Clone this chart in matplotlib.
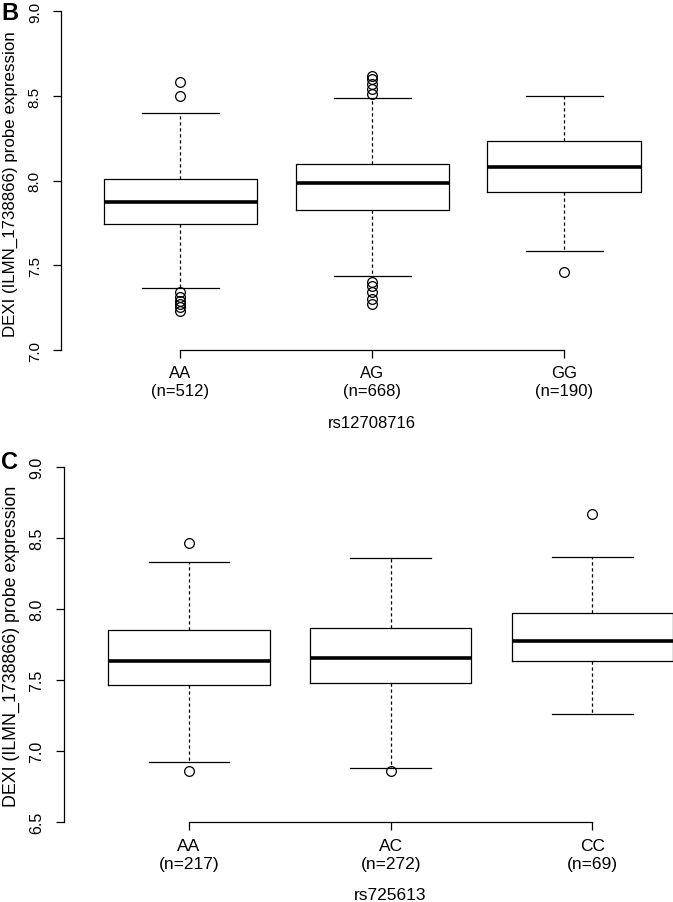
import matplotlib
matplotlib.use("Agg")
import matplotlib.pyplot as plt

plt.rcParams['font.family'] = ['Liberation Sans', 'DejaVu Sans']

# ---------------- data (panel B) ----------------
b_genotypes = ["AA", "AG", "GG"]
b_counts = [512, 668, 190]
b_q1 = [7.744, 7.826, 7.934]
b_med = [7.872, 7.984, 8.079]
b_q3 = [8.008, 8.096, 8.232]
b_whislo = [7.364, 7.438, 7.582]
b_whishi = [8.398, 8.488, 8.500]
b_fliers = [
    [8.584, 8.502, 7.340, 7.311, 7.291, 7.271, 7.252, 7.228],
    [8.620, 8.600, 8.570, 8.541, 8.511, 7.399, 7.376, 7.340, 7.301, 7.271],
    [7.458],
]
b_snp = "rs12708716"
b_yticks = [7.0, 7.5, 8.0, 8.5, 9.0]

# ---------------- data (panel C) ----------------
c_genotypes = ["AA", "AC", "CC"]
c_counts = [217, 272, 69]
c_q1 = [7.464, 7.478, 7.635]
c_med = [7.637, 7.656, 7.778]
c_q3 = [7.851, 7.867, 7.975]
c_whislo = [6.924, 6.884, 7.260]
c_whishi = [8.334, 8.357, 8.369]
c_fliers = [
    [8.463, 6.858],
    [6.858],
    [8.671],
]
c_snp = "rs725613"
c_yticks = [6.5, 7.0, 7.5, 8.0, 8.5, 9.0]

ylabel_text = "DEXI (ILMN_1738866) probe expression"

W, H = 673, 903
fig = plt.figure(figsize=(W / 100, H / 100), dpi=100)
fig.patch.set_facecolor("white")


def fx(x):
    return x / W


def fy(y):
    return 1 - y / H


def panel(rect, genotypes, counts, q1, med, q3, wlo, whi, fliers, yticks,
          xt_size, yt_size):
    left, top, width, height = rect
    ax = fig.add_axes([fx(left), fy(top + height), width / W, height / H])
    stats = []
    for i in range(len(genotypes)):
        stats.append(dict(med=med[i], q1=q1[i], q3=q3[i],
                          whislo=wlo[i], whishi=whi[i], fliers=fliers[i]))
    ax.bxp(stats, positions=[1, 2, 3], widths=0.8, capwidths=0.4,
           boxprops=dict(color="black", linewidth=0.9),
           medianprops=dict(color="black", linewidth=2.6, solid_capstyle="butt"),
           whiskerprops=dict(color="black", linewidth=0.9, linestyle=(0, (2.6, 2.2))),
           capprops=dict(color="black", linewidth=0.9),
           flierprops=dict(marker="o", markersize=7, markerfacecolor="none",
                           markeredgecolor="black", markeredgewidth=0.9),
           manage_ticks=False)
    ax.set_xlim(0.38, 3.62)
    ax.set_ylim(yticks[0], yticks[-1])
    for s in ["top", "right"]:
        ax.spines[s].set_visible(False)
    ax.spines["bottom"].set_bounds(1, 3)
    ax.spines["left"].set_linewidth(0.9)
    ax.spines["bottom"].set_linewidth(0.9)
    ax.set_xticks([1, 2, 3])
    ax.set_xticklabels([f"{g}\n(n={n})" for g, n in zip(genotypes, counts)],
                       fontsize=xt_size, linespacing=1.25)
    ax.set_yticks(yticks)
    ax.set_yticklabels([f"{v:.1f}" for v in yticks], fontsize=yt_size,
                       rotation=90, va="center")
    ax.tick_params(axis="both", length=6, width=0.9, direction="out")
    ax.tick_params(axis="x", pad=5)
    ax.tick_params(axis="y", pad=8)
    ax.set_facecolor("none")
    return ax


axB = panel((61.3, 12.3, 622, 338.7), b_genotypes, b_counts, b_q1, b_med, b_q3,
            b_whislo, b_whishi, b_fliers, b_yticks, 12, 11)
axC = panel((63.9, 468, 653.5, 355.3), c_genotypes, c_counts, c_q1, c_med, c_q3,
            c_whislo, c_whishi, c_fliers, c_yticks, 12.5, 11.5)

# y labels
fig.text(fx(10), fy(184), ylabel_text, rotation=90, ha="center", va="center",
         fontsize=12.2)
fig.text(fx(11.5), fy(646), ylabel_text, rotation=90, ha="center", va="center",
         fontsize=12.8)

# x labels
fig.text(fx(372), fy(424), b_snp, ha="center", va="center", fontsize=12)
fig.text(fx(390), fy(896), c_snp, ha="center", va="center", fontsize=12.5)

# panel letters
fig.text(fx(10), fy(13.5), "B", ha="center", va="center", fontsize=17,
         fontweight="bold")
fig.text(fx(10), fy(463), "C", ha="center", va="center", fontsize=17,
         fontweight="bold")

fig.savefig("out.png", dpi=100, facecolor="white")
